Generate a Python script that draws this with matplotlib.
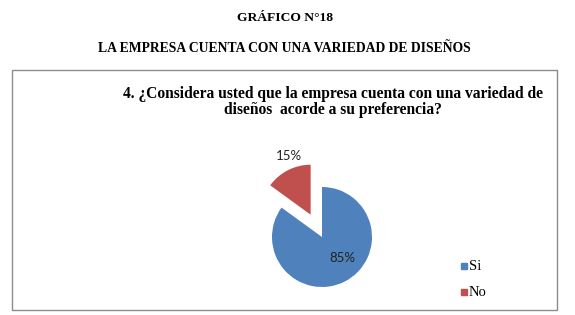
import matplotlib
matplotlib.use("Agg")
import matplotlib.pyplot as plt
from matplotlib.patches import Rectangle

categories = ["Si", "No"]
values = [85, 15]
colors = ["#4F81BD", "#C0504D"]

W, H = 575, 315
fig = plt.figure(figsize=(W / 100, H / 100), dpi=100)

def fx(px):
    return px / W

def fy(py):
    return 1 - py / H

serif = "Liberation Serif"

fig.text(fx(285), fy(18), "GRÁFICO N°18", ha="center", va="center",
         fontfamily=serif, fontweight="bold", fontsize=9.7)
fig.text(fx(284), fy(48), "LA EMPRESA CUENTA CON UNA VARIEDAD DE DISEÑOS",
         ha="center", va="center", fontfamily=serif, fontweight="bold", fontsize=9.8)

# chart frame
fig.patches.append(Rectangle((fx(12), fy(310)), fx(557) - fx(12), fy(70) - fy(310),
                             transform=fig.transFigure, fill=False,
                             edgecolor="#8c8c8c", linewidth=1))

fig.text(fx(333), fy(102),
         "4. ¿Considera usted que la empresa cuenta con una variedad de\n"
         "diseños  acorde a su preferencia?",
         ha="center", va="center", fontfamily=serif, fontweight="bold",
         fontsize=11.2, linespacing=1.05)

# pie axes: center at (322, 237) px, radius 50 px
cx, cy, r = 322, 237, 50
xl, xr, yb, yt = -1.5, 1.5, -1.2, 1.8
ax = fig.add_axes([fx(cx + xl * r), fy(cy - yb * r), (xr - xl) * r / W, (yt - yb) * r / H])
wedges, texts, autotexts = ax.pie(values, colors=colors, startangle=90, counterclock=False,
                                  explode=[0, 0.5], autopct="%1.0f%%",
                                  textprops=dict(fontfamily="Lato", fontsize=9.5, color="#222222"))
autotexts[0].set_position((0.4, -0.42))
autotexts[1].set_position((-0.66, 1.62))
ax.set_xlim(xl, xr)
ax.set_ylim(yb, yt)
ax.set_aspect("equal")
ax.axis("off")

# legend
leg_y = [266, 292]
for cat, col, y in zip(categories, colors, leg_y):
    fig.patches.append(Rectangle((fx(461), fy(y + 3)), 6 / W, 6 / H,
                                 transform=fig.transFigure, color=col))
    fig.text(fx(469), fy(y), cat, ha="left", va="center", fontfamily=serif, fontsize=10.5)

fig.savefig("out.png", dpi=100)
